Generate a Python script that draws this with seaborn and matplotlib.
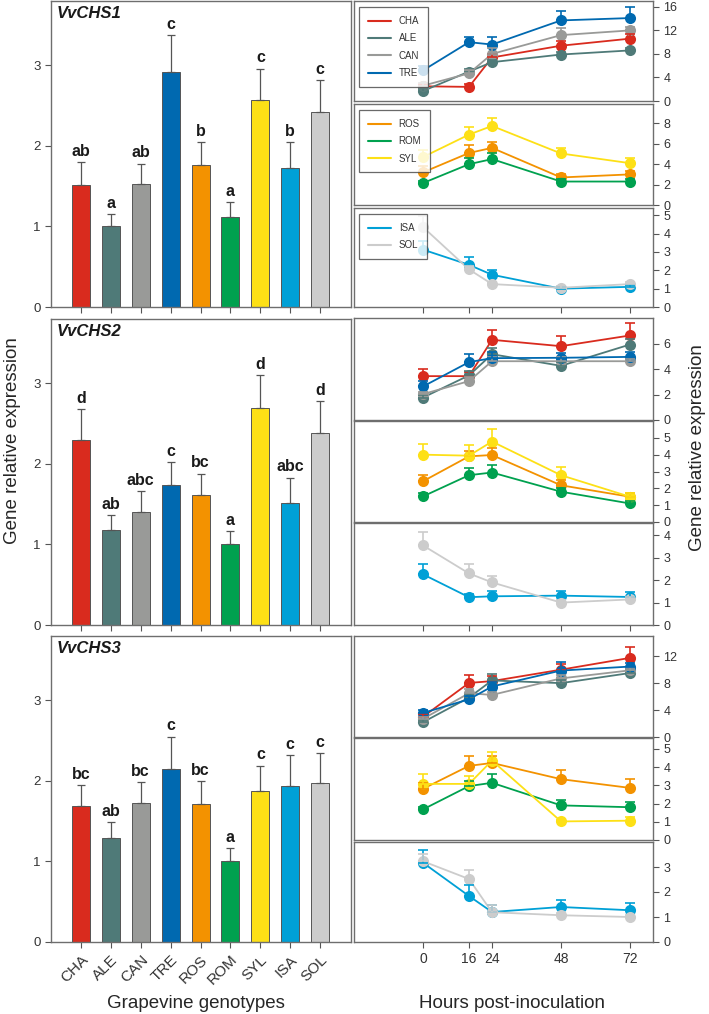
import numpy as np
import pandas as pd
import matplotlib
matplotlib.use('Agg')
import matplotlib.pyplot as plt
from matplotlib.lines import Line2D
import seaborn as sns

# ---- data ----
genotypes = ['CHA', 'ALE', 'CAN', 'TRE', 'ROS', 'ROM', 'SYL', 'ISA', 'SOL']
colors = ['#d92b1e', '#4f7a78', '#999a98', '#0069b0', '#f39200',
          '#00a14f', '#fde016', '#00a0d6', '#cccccc']
genes = ['VvCHS1', 'VvCHS2', 'VvCHS3']
hours = [0, 16, 24, 48, 72]

chs1_bar = [1.52, 1.00, 1.53, 2.92, 1.76, 1.12, 2.57, 1.73, 2.42]
chs1_bar_err = [0.28, 0.15, 0.25, 0.46, 0.29, 0.18, 0.39, 0.32, 0.40]
chs1_letters = ['ab', 'a', 'ab', 'c', 'b', 'a', 'c', 'b', 'c']

chs2_bar = [2.30, 1.18, 1.40, 1.74, 1.62, 1.00, 2.69, 1.52, 2.39]
chs2_bar_err = [0.38, 0.18, 0.26, 0.28, 0.26, 0.17, 0.41, 0.31, 0.39]
chs2_letters = ['d', 'ab', 'abc', 'c', 'bc', 'a', 'd', 'abc', 'd']

chs3_bar = [1.69, 1.29, 1.72, 2.15, 1.71, 1.00, 1.87, 1.94, 1.97]
chs3_bar_err = [0.26, 0.20, 0.27, 0.40, 0.29, 0.17, 0.32, 0.38, 0.38]
chs3_letters = ['bc', 'ab', 'bc', 'c', 'bc', 'a', 'c', 'c', 'c']

chs1_time = {
    'CHA': [2.5, 2.4, 7.4, 9.4, 10.6], 'ALE': [1.7, 5.0, 6.6, 7.9, 8.6],
    'CAN': [2.6, 4.7, 8.0, 11.2, 12.0], 'TRE': [5.2, 10.0, 9.6, 13.7, 14.1],
    'ROS': [3.2, 5.1, 5.6, 2.7, 3.0], 'ROM': [2.15, 4.0, 4.5, 2.3, 2.3],
    'SYL': [4.7, 6.9, 7.75, 5.05, 4.1],
    'ISA': [3.13, 2.3, 1.76, 1.0, 1.1], 'SOL': [4.36, 2.05, 1.25, 1.05, 1.25],
}
chs1_time_err = {
    'CHA': [0.4, 0.5, 0.6, 0.8, 0.8], 'ALE': [0.3, 0.5, 0.4, 0.4, 0.4],
    'CAN': [0.4, 0.5, 1.0, 1.2, 0.6], 'TRE': [0.7, 0.9, 1.3, 1.6, 1.8],
    'ROS': [0.6, 0.75, 0.6, 0.3, 0.35], 'ROM': [0.2, 0.6, 0.6, 0.2, 0.2],
    'SYL': [0.65, 0.7, 0.75, 0.55, 0.5],
    'ISA': [0.45, 0.4, 0.28, 0.1, 0.1], 'SOL': [0.62, 0.2, 0.1, 0.1, 0.1],
}
chs2_time = {
    'CHA': [3.44, 3.44, 6.29, 5.79, 6.63], 'ALE': [1.76, 3.5, 5.16, 4.25, 5.92],
    'CAN': [2.03, 3.05, 4.61, 4.61, 4.61], 'TRE': [2.63, 4.54, 4.85, 4.88, 4.95],
    'ROS': [2.42, 3.9, 3.98, 2.18, 1.5], 'ROM': [1.52, 2.78, 2.94, 1.8, 1.1],
    'SYL': [4.0, 3.94, 4.78, 2.78, 1.5],
    'ISA': [2.26, 1.24, 1.28, 1.31, 1.25], 'SOL': [3.55, 2.30, 1.9, 1.0, 1.14],
}
chs2_time_err = {
    'CHA': [0.56, 0.3, 0.8, 0.8, 0.94], 'ALE': [0.2, 0.35, 0.45, 0.3, 0.4],
    'CAN': [0.2, 0.3, 0.3, 0.3, 0.2], 'TRE': [0.42, 0.62, 0.5, 0.4, 0.4],
    'ROS': [0.38, 0.3, 0.4, 0.3, 0.2], 'ROM': [0.2, 0.42, 0.46, 0.2, 0.15],
    'SYL': [0.62, 0.64, 0.76, 0.46, 0.2],
    'ISA': [0.47, 0.15, 0.22, 0.19, 0.22], 'SOL': [0.58, 0.4, 0.3, 0.1, 0.1],
}
chs3_time = {
    'CHA': [3.0, 8.03, 8.3, 10.0, 11.75], 'ALE': [2.2, 5.85, 8.4, 8.0, 9.5],
    'CAN': [2.7, 6.5, 6.25, 8.7, 9.9], 'TRE': [3.57, 5.6, 7.5, 9.87, 10.46],
    'ROS': [2.81, 4.07, 4.23, 3.34, 2.86], 'ROM': [1.68, 2.96, 3.14, 1.9, 1.8],
    'SYL': [3.08, 3.08, 4.36, 1.02, 1.06],
    'ISA': [3.17, 1.84, 1.2, 1.4, 1.27], 'SOL': [3.23, 2.52, 1.19, 1.07, 1.0],
}
chs3_time_err = {
    'CHA': [0.4, 1.17, 0.8, 0.8, 1.65], 'ALE': [0.3, 0.5, 0.9, 0.4, 0.4],
    'CAN': [0.3, 0.6, 0.4, 0.5, 0.4], 'TRE': [0.4, 0.5, 0.7, 1.33, 0.6],
    'ROS': [0.3, 0.56, 0.4, 0.51, 0.48], 'ROM': [0.15, 0.3, 0.46, 0.3, 0.3],
    'SYL': [0.55, 0.42, 0.49, 0.1, 0.2],
    'ISA': [0.53, 0.46, 0.3, 0.27, 0.3], 'SOL': [0.3, 0.36, 0.31, 0.1, 0.1],
}

groups = [['CHA', 'ALE', 'CAN', 'TRE'], ['ROS', 'ROM', 'SYL'], ['ISA', 'SOL']]

# ---- style ----
sns.set_style('ticks')
plt.rcParams['font.family'] = ['Liberation Sans', 'DejaVu Sans']
color_of = dict(zip(genotypes, colors))
SPINE = '#6e6e6e'
W, H = 709, 1014

fig = plt.figure(figsize=(W / 100, H / 100), dpi=100)


def px_axes(x0, x1, y0, y1):
    return fig.add_axes([x0 / W, 1 - y1 / H, (x1 - x0) / W, (y1 - y0) / H])


def style_spines(ax):
    for s in ax.spines.values():
        s.set_color(SPINE)
        s.set_linewidth(1.0)
        s.set_visible(True)


bar_sets = [(chs1_bar, chs1_bar_err, chs1_letters),
            (chs2_bar, chs2_bar_err, chs2_letters),
            (chs3_bar, chs3_bar_err, chs3_letters)]
time_sets = [(chs1_time, chs1_time_err), (chs2_time, chs2_time_err),
             (chs3_time, chs3_time_err)]

left_rows = [(1, 307), (319, 625), (636, 942)]
right_rows = [[(1, 101), (104, 205), (208, 307)],
              [(318, 420), (421, 522), (523, 625)],
              [(636, 737), (738, 840), (842, 942)]]
right_ylims = [[17, 9.9, 5.4], [8.0, 6.0, 4.55], [15.0, 5.6, 4.0]]
right_yticks = [[[0, 4, 8, 12, 16], [0, 2, 4, 6, 8], [0, 1, 2, 3, 4, 5]],
                [[0, 2, 4, 6], [0, 1, 2, 3, 4, 5], [0, 1, 2, 3, 4]],
                [[0, 4, 8, 12], [0, 1, 2, 3, 4, 5], [0, 1, 2, 3]]]

for gi in range(3):
    vals, errs, letters = bar_sets[gi]
    top, bot = left_rows[gi]
    ax = px_axes(51, 351, top, bot)
    df = pd.DataFrame({'genotype': genotypes, 'value': vals})
    sns.barplot(data=df, x='genotype', y='value', hue='genotype',
                palette=colors, saturation=1, legend=False, width=0.6,
                edgecolor='#555555', linewidth=0.7, ax=ax)
    xs = np.arange(len(genotypes))
    ax.errorbar(xs, vals, yerr=[np.zeros(len(vals)), errs], fmt='none',
                ecolor='#555555', elinewidth=0.9, capsize=3, capthick=0.9)
    for x, v, e, t in zip(xs, vals, errs, letters):
        ax.text(x, v + e + 0.04, t, ha='center', va='bottom',
                fontsize=11.5, fontweight='bold', color='#1a1a1a')
    ax.text(0.02, 0.958, genes[gi], transform=ax.transAxes, ha='left',
            va='center', fontsize=12, fontweight='bold', fontstyle='italic',
            color='#1a1a1a')
    ax.set_ylim(0, 3.8)
    ax.set_xlim(-1, 9.03)
    ax.set_yticks([0, 1, 2, 3])
    ax.set_xlabel('')
    ax.set_ylabel('')
    style_spines(ax)
    ax.tick_params(axis='both', direction='out', length=4, width=0.8,
                   color='#555555', labelsize=9.5, labelcolor='#333333')
    if gi < 2:
        ax.set_xticklabels([])
    else:
        ax.set_xticks(xs)
        ax.set_xticklabels(genotypes, rotation=45, ha='right',
                           rotation_mode='anchor', fontsize=11)

    data, derr = time_sets[gi]
    for pi, grp in enumerate(groups):
        t0, t1 = right_rows[gi][pi]
        rax = px_axes(354, 653, t0, t1)
        rows = []
        for g in grp:
            for h, v in zip(hours, data[g]):
                rows.append({'hour': h, 'value': v, 'genotype': g})
        ldf = pd.DataFrame(rows)
        sns.lineplot(data=ldf, x='hour', y='value', hue='genotype',
                     hue_order=grp, palette=[color_of[g] for g in grp],
                     marker='o', markersize=8, markeredgewidth=0,
                     linewidth=1.3, legend=False, ax=rax)
        for g in grp:
            rax.errorbar(hours, data[g], yerr=[np.zeros(5), derr[g]],
                         fmt='none', ecolor=color_of[g], elinewidth=1.2,
                         capsize=3.5, capthick=1.2)
        rax.set_xlim(-24, 80)
        rax.set_ylim(0, right_ylims[gi][pi])
        rax.set_yticks(right_yticks[gi][pi])
        rax.yaxis.tick_right()
        rax.set_xlabel('')
        rax.set_ylabel('')
        style_spines(rax)
        rax.tick_params(axis='y', direction='out', length=4, width=0.8,
                        color='#555555', labelsize=9, labelcolor='#333333')
        if pi == 2:
            rax.set_xticks(hours)
            rax.tick_params(axis='x', direction='out', length=4, width=0.8,
                            color='#555555', labelsize=10, labelcolor='#333333')
            if gi < 2:
                rax.set_xticklabels([])
        else:
            rax.set_xticks([])
        if gi == 0:
            handles = [Line2D([], [], color=color_of[g], lw=1.5) for g in grp]
            leg = rax.legend(handles, grp, loc='upper left', fontsize=7,
                             frameon=True, fancybox=False, handlelength=2.4,
                             labelspacing=0.75, borderpad=0.9,
                             bbox_to_anchor=(0.0, 0.985))
            leg.get_frame().set_edgecolor('#444444')
            leg.get_frame().set_linewidth(0.9)
            for t in leg.get_texts():
                t.set_color('#333333')

fig.text(0.017, 0.566, 'Gene relative expression', rotation=90,
         ha='center', va='center', fontsize=13.5)
fig.text(0.984, 0.559, 'Gene relative expression', rotation=90,
         ha='center', va='center', fontsize=13.5)
fig.text(196 / W, 1 - 1003 / H, 'Grapevine genotypes', ha='center',
         va='center', fontsize=13.5)
fig.text(512 / W, 1 - 1003 / H, 'Hours post-inoculation', ha='center',
         va='center', fontsize=13.5)

fig.savefig('out.png', dpi=100)
